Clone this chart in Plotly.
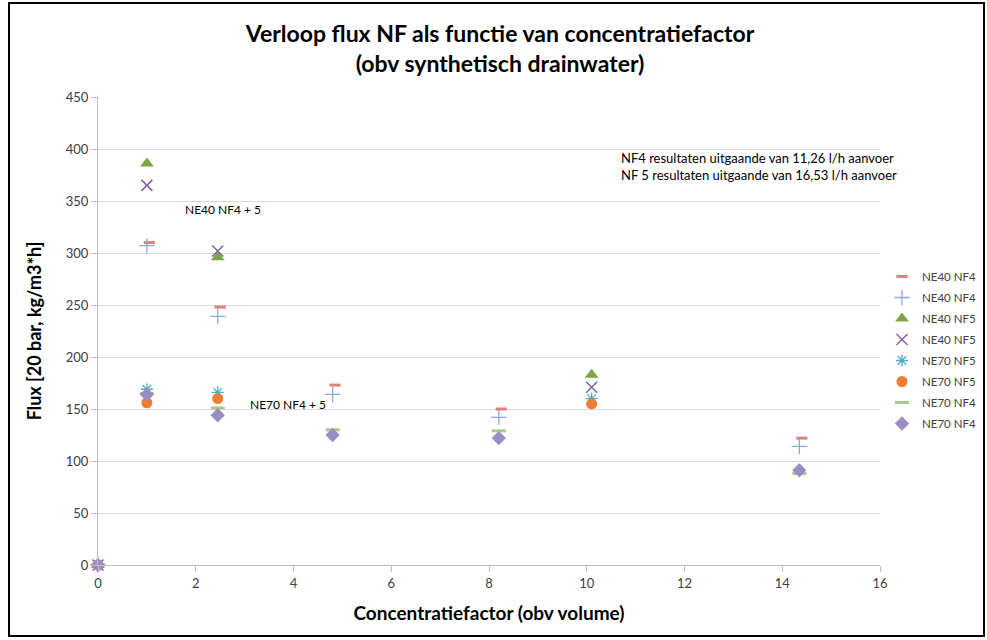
import plotly.graph_objects as go

# Concentration factor (by volume) at each sampling moment
cf_nf4 = [0, 1.0, 2.45, 4.8, 8.2, 14.35]
cf_nf5 = [0, 1.0, 2.45, 10.1]
cf_nf4_offset = [0, 1.05, 2.5, 4.85, 8.25, 14.4]

# Flux values [20 bar, kg/m3*h]
ne40_nf4_a = [0, 310, 248, 173, 150, 122]
ne40_nf4_b = [0, 307, 239, 164, 142, 114]
ne40_nf5_a = [0, 386, 296, 183]
ne40_nf5_b = [0, 365, 302, 171]
ne70_nf5_a = [0, 169, 166, 160]
ne70_nf5_b = [0, 156, 160, 155]
ne70_nf4_a = [0, 165, 151, 130, 129, 88]
ne70_nf4_b = [0, 164, 144, 125, 122, 91]

x_ticks = [0, 2, 4, 6, 8, 10, 12, 14, 16]
y_ticks = [0, 50, 100, 150, 200, 250, 300, 350, 400, 450]

FONT = "Lato"

series = [
    ("NE40 NF4", cf_nf4_offset, ne40_nf4_a, dict(symbol="line-ew", size=8, color="#e0807c", line=dict(color="#e0807c", width=3))),
    ("NE40 NF4", cf_nf4, ne40_nf4_b, dict(symbol="cross-thin", size=11, color="#8faadc", line=dict(color="#8faadc", width=1.3))),
    ("NE40 NF5", cf_nf5, ne40_nf5_a, dict(symbol="triangle-up", size=12, color="#7ea542")),
    ("NE40 NF5", cf_nf5, ne40_nf5_b, dict(symbol="x-thin", size=11, color="#8064a2", line=dict(color="#8064a2", width=1.5))),
    ("NE70 NF5", cf_nf5, ne70_nf5_a, dict(symbol="asterisk", size=10, color="#4bacc6", line=dict(color="#4bacc6", width=1.3))),
    ("NE70 NF5", cf_nf5, ne70_nf5_b, dict(symbol="circle", size=11, color="#ed7d31")),
    ("NE70 NF4", cf_nf4, ne70_nf4_a, dict(symbol="line-ew", size=10, color="#a9c98a", line=dict(color="#a9c98a", width=3))),
    ("NE70 NF4", cf_nf4, ne70_nf4_b, dict(symbol="diamond", size=11, color="#9b8cc4")),
]

fig = go.Figure()
for i, (name, xs, ys, mk) in enumerate(series):
    fig.add_trace(go.Scatter(x=xs, y=ys, mode="markers", name=name, marker=mk,
                             cliponaxis=False, legendgroup=f"g{i}"))

# Plot area in pixels
L, R, T, B = 98, 880, 97, 565
W, H = 987, 640
pw, ph = R - L, B - T


def px(xp):
    return (xp - L) / pw


def py(yp):
    return (B - yp) / ph


fig.update_layout(
    width=W,
    height=H,
    margin=dict(l=L, r=W - R, t=T, b=H - B, autoexpand=False),
    paper_bgcolor="white",
    plot_bgcolor="white",
    font=dict(family=FONT, color="#404040"),
    title=dict(
        text="Verloop flux NF als functie van concentratiefactor<br>(obv synthetisch drainwater)",
        x=500 / W, xanchor="center", xref="container",
        y=1 - 42 / H, yanchor="middle", yref="container",
        font=dict(family=FONT, size=23, color="black", weight="bold"),
    ),
    showlegend=True,
    legend=dict(
        x=px(882), y=py(262), xanchor="left", yanchor="top",
        font=dict(family=FONT, size=11.5, color="#404040"),
        bgcolor="rgba(0,0,0,0)",
        itemwidth=30,
        tracegroupgap=2,
    ),
    xaxis=dict(
        range=[0, 16], tickvals=x_ticks, showgrid=False,
        showline=True, linecolor="#bfbfbf", linewidth=1,
        ticks="outside", ticklen=6, tickcolor="#bfbfbf",
        tickfont=dict(family=FONT, size=13, color="#404040"),
        zeroline=False,
        title=dict(text="Concentratiefactor (obv volume)", standoff=17,
                   font=dict(family=FONT, size=19, color="black", weight="bold")),
    ),
    yaxis=dict(
        range=[0, 450], tickvals=y_ticks, showgrid=True, gridcolor="#d9d9d9",
        showline=True, linecolor="#bfbfbf", linewidth=1,
        ticks="outside", ticklen=6, tickcolor="#bfbfbf",
        tickfont=dict(family=FONT, size=13, color="#404040"),
        zeroline=False,
        title=dict(text="Flux [20 bar, kg/m3*h]", standoff=19,
                   font=dict(family=FONT, size=18, color="black", weight="bold")),
    ),
)

# Outer chart frame
fig.add_shape(type="rect", xref="paper", yref="paper",
              x0=px(9), x1=px(984), y0=py(636), y1=py(3),
              line=dict(color="black", width=2), fillcolor="rgba(0,0,0,0)")

fig.add_annotation(x=1.74, y=342, xanchor="left", yanchor="middle", showarrow=False,
                   text="NE40 NF4 + 5", font=dict(family=FONT, size=12, color="black"))
fig.add_annotation(x=3.07, y=154, xanchor="left", yanchor="middle", showarrow=False,
                   text="NE70 NF4 + 5", font=dict(family=FONT, size=12, color="black"))
fig.add_annotation(x=px(619), y=py(166), xref="paper", yref="paper",
                   xanchor="left", yanchor="middle", showarrow=False, align="left",
                   text="NF4 resultaten uitgaande van 11,26 l/h aanvoer<br>NF 5 resultaten uitgaande van 16,53 l/h aanvoer",
                   font=dict(family=FONT, size=13, color="black"))

fig.write_html("out.html")
